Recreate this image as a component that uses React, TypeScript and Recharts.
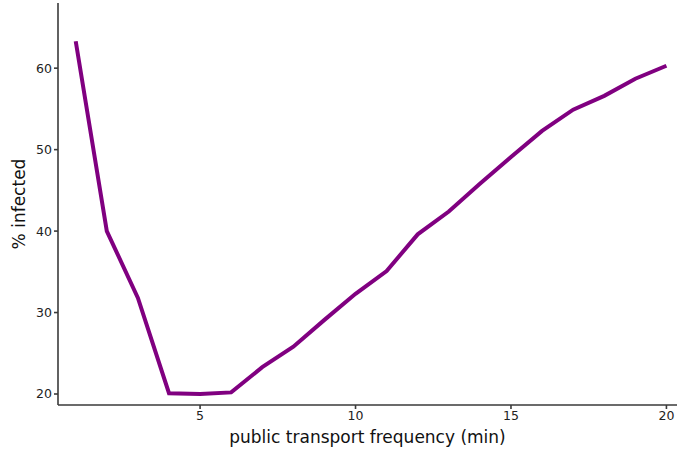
import { Line, LineChart, XAxis, YAxis } from "recharts";

const frequency = [1, 2, 3, 4, 5, 6, 7, 8, 9, 10, 11, 12, 13, 14, 15, 16, 17, 18, 19, 20];
const infected = [
  63.3, 40.0, 31.8, 20.1, 20.0, 20.2, 23.3, 25.8, 29.1, 32.3,
  35.1, 39.6, 42.4, 45.8, 49.1, 52.3, 54.9, 56.6, 58.7, 60.3,
];
const xTicks = [5, 10, 15, 20];
const yTicks = [20, 30, 40, 50, 60];

const data = frequency.map((f, i) => ({ f, pct: infected[i] }));

const axisColor = "#3a3a3a";
const font = "DejaVu Sans, sans-serif";

const axisProps = {
  stroke: axisColor,
  strokeWidth: 1.6,
  tickSize: 4,
  tick: { fill: "#222", fontSize: 12.5, fontFamily: font },
};

export default function App() {
  return (
    <div style={{ position: "absolute", left: 0, top: 0, background: "#fff" }}>
      <LineChart
        width={678}
        height={450}
        data={data}
        margin={{ top: 3, right: 1, left: 0, bottom: 0 }}
      >
        <XAxis
          dataKey="f"
          type="number"
          domain={[0.43, 20.34]}
          ticks={xTicks}
          allowDataOverflow
          height={45}
          {...axisProps}
          label={{
            value: "public transport frequency (min)",
            position: "insideBottom",
            offset: 7,
            fill: "#111",
            fontSize: 17,
            fontFamily: font,
          }}
        />
        <YAxis
          type="number"
          domain={[18.65, 68]}
          ticks={yTicks}
          allowDataOverflow
          width={58}
          {...axisProps}
          label={{
            value: "% infected",
            angle: -90,
            position: "insideLeft",
            offset: 19,
            fill: "#111",
            fontSize: 17,
            fontFamily: font,
            style: { textAnchor: "middle" },
          }}
        />
        <Line
          dataKey="pct"
          type="linear"
          stroke="#800080"
          strokeWidth={4}
          dot={false}
          isAnimationActive={false}
        />
      </LineChart>
    </div>
  );
}
